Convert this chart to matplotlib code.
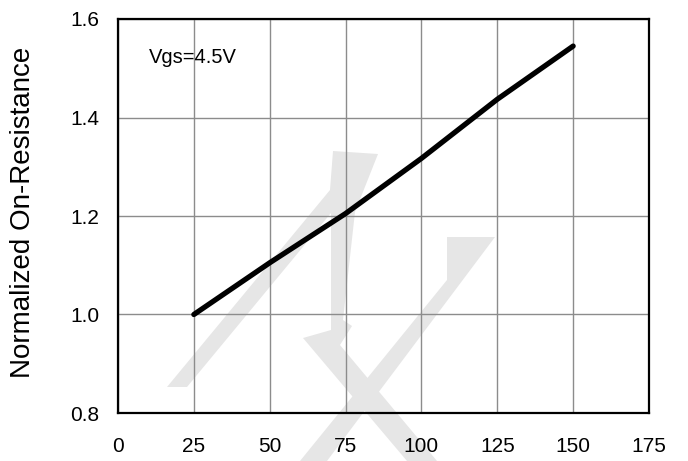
import numpy as np
import matplotlib
matplotlib.use("Agg")
import matplotlib.pyplot as plt
from matplotlib.patches import Polygon

plt.rcParams['font.family'] = ['Liberation Sans', 'DejaVu Sans']

# junction temperature vs normalized on-resistance
temp = [25, 50, 75, 100, 125, 150]
r_norm = [1.0, 1.105, 1.205, 1.317, 1.437, 1.545]
x_ticks = [0, 25, 50, 75, 100, 125, 150, 175]
y_ticks = [0.8, 1.0, 1.2, 1.4, 1.6]

W, H = 688, 461
fig = plt.figure(figsize=(W / 100, H / 100), dpi=100)
fig.patch.set_facecolor('white')

# faint watermark behind the plot (pixel outline, top-left origin)
wm_a = [(167, 387), (187, 387), (331, 213), (331, 330), (303, 338), (407, 461),
        (437, 461), (340, 345), (352, 326), (343, 320), (355, 212), (378, 154),
        (333, 151), (330, 190)]
wm_b = [(447, 237), (495, 237), (327, 461), (300, 461), (447, 280)]
for pts in (wm_a, wm_b):
    xy = [(px / W, 1 - py / H) for px, py in pts]
    fig.patches.append(Polygon(xy, closed=True, transform=fig.transFigure,
                               facecolor='#e6e6e6', edgecolor='none', zorder=-5))

ax = fig.add_axes([118 / W, 1 - 413 / H, (649 - 118) / W, (413 - 19) / H])
ax.set_facecolor('none')
ax.set_zorder(1)

ax.plot(temp, r_norm, color='black', linewidth=3.8, solid_capstyle='round', zorder=3)

ax.set_xlim(0, 175)
ax.set_ylim(0.8, 1.6)
ax.set_xticks(x_ticks)
ax.set_yticks(y_ticks)
ax.set_yticklabels(['%.1f' % v for v in y_ticks])
ax.grid(True, color='#8c8c8c', linewidth=1.0)
ax.set_axisbelow(True)
ax.tick_params(axis='both', length=0, labelsize=15)
ax.tick_params(axis='x', pad=17)
ax.tick_params(axis='y', pad=13.5)
for s in ax.spines.values():
    s.set_linewidth(1.6)
    s.set_color('black')
    s.set_zorder(4)

ax.set_ylabel('Normalized On-Resistance', fontsize=20)
ax.yaxis.set_label_coords(-0.155, 0.51)

ax.text(10.2, 1.521, 'Vgs=4.5V', fontsize=14.5, ha='left', va='center')

fig.savefig('out.png', dpi=100)
